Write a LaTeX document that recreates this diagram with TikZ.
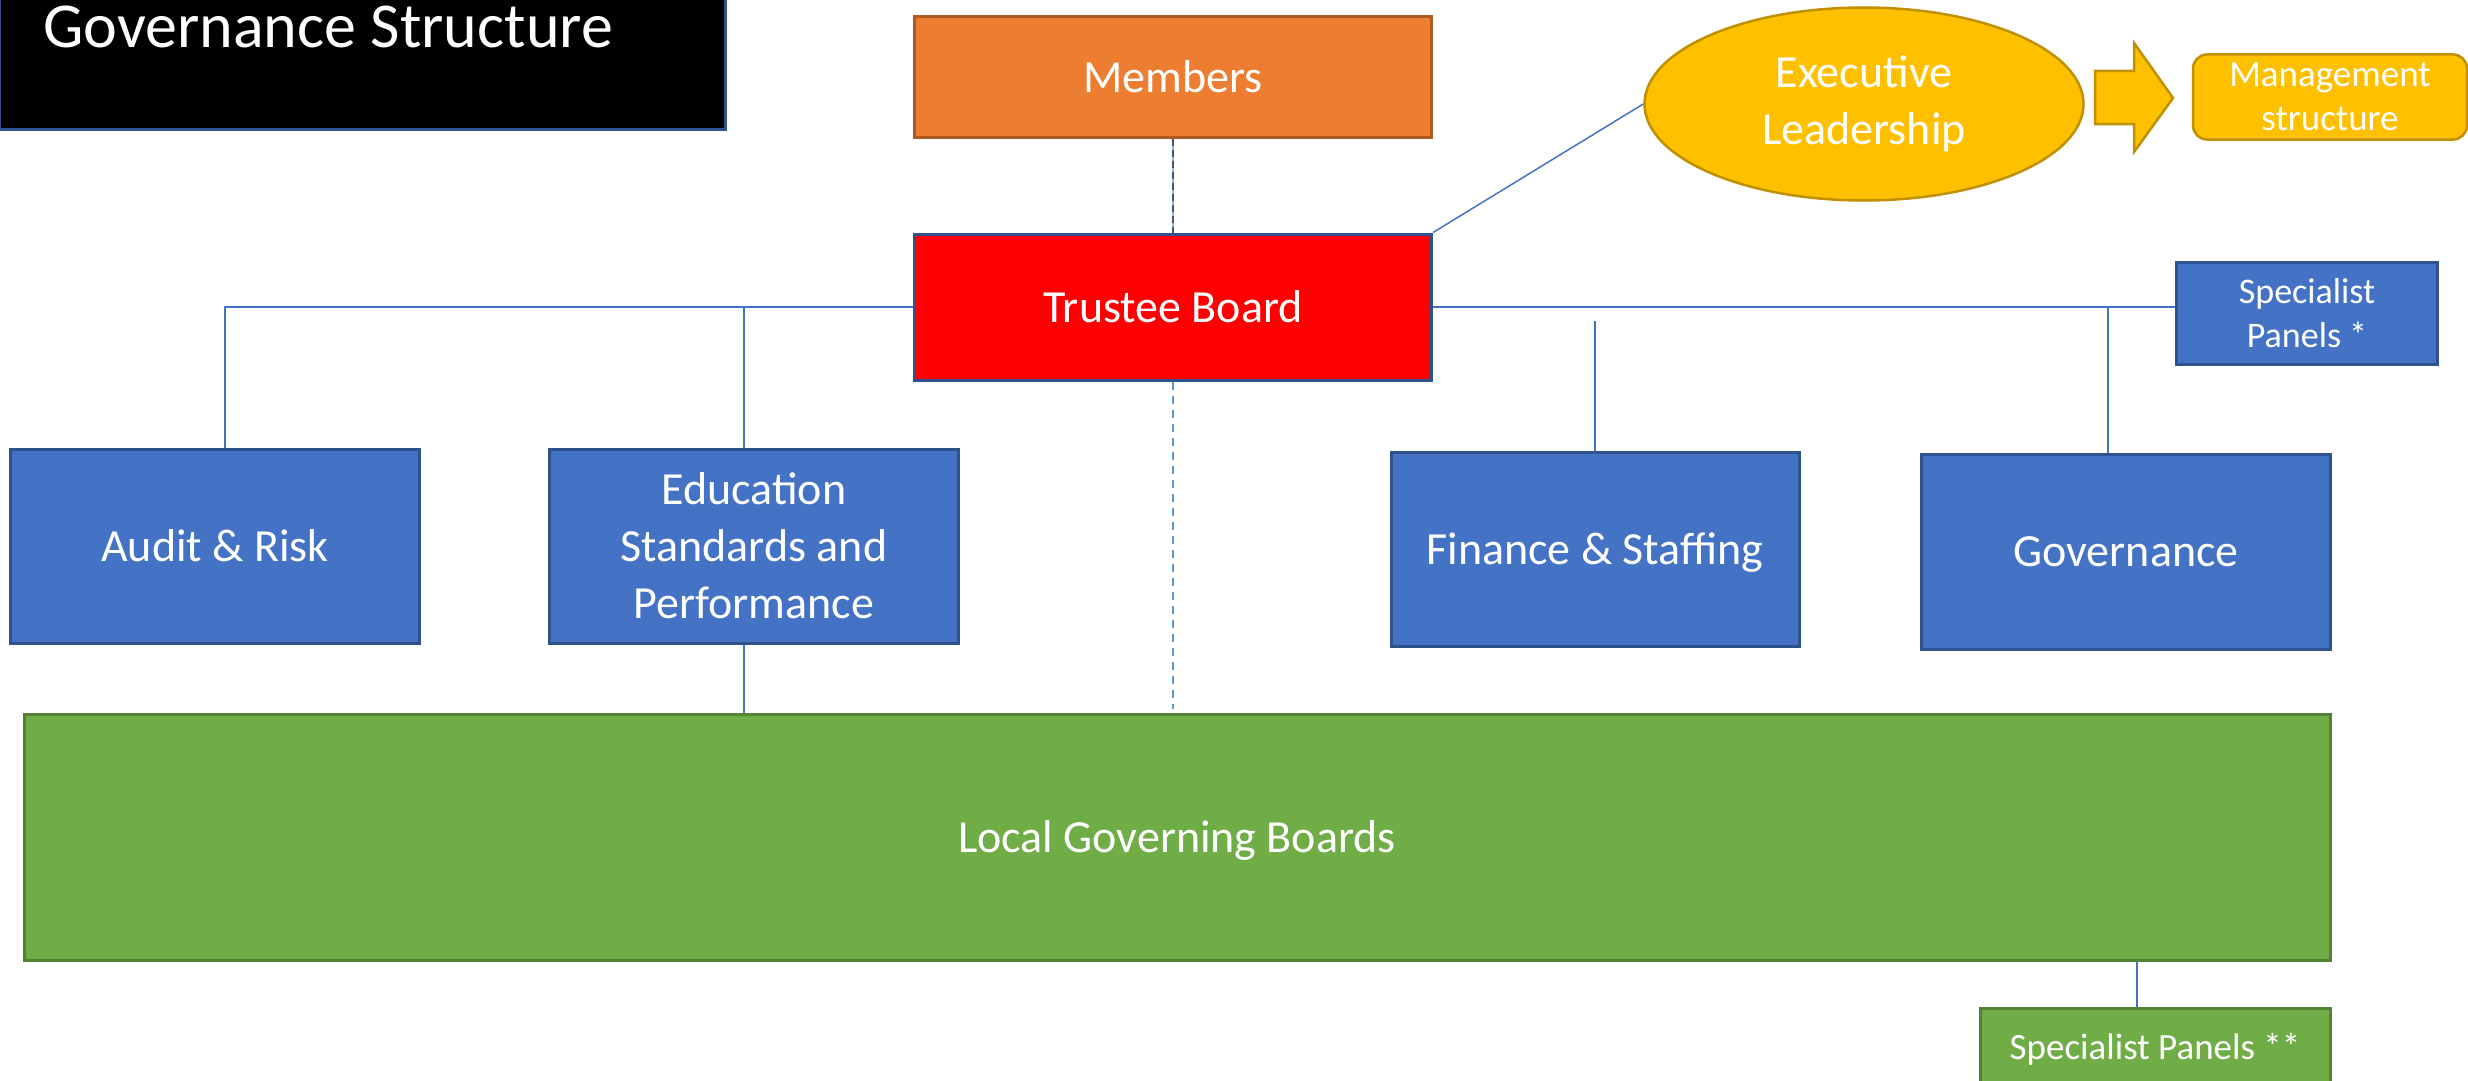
\documentclass[tikz,border=0pt]{standalone}
\usepackage{fontspec}
\setmainfont{Carlito}
\usetikzlibrary{shapes.geometric}
\definecolor{GovBlue}{RGB}{68,114,196}
\definecolor{GovBlueDark}{RGB}{47,82,143}
\definecolor{GovRed}{RGB}{255,0,0}
\definecolor{GovOrange}{RGB}{237,125,49}
\definecolor{GovOrangeDark}{RGB}{174,90,33}
\definecolor{GovGold}{RGB}{255,192,0}
\definecolor{GovGoldDark}{RGB}{191,144,0}
\definecolor{GovGreen}{RGB}{112,173,71}
\definecolor{GovGreenDark}{RGB}{84,130,53}
\definecolor{GovSlate}{RGB}{68,84,106}
\definecolor{GovSky}{RGB}{91,155,213}

\tikzset{
	panel/.style={draw=GovBlueDark, line width=3pt, fill=GovBlue, text=white,
		align=center, inner sep=0pt, font=\fontsize{46}{57}\selectfont},
	flat/.style={text depth=0pt},
	link/.style={draw=GovBlue, line width=1.5pt},
}

\begin{document}
\begin{tikzpicture}[x=1pt,y=-1pt]
		\useasboundingbox (0,0) rectangle (2468,1081);
		% title
		\node[draw=GovBlueDark, line width=2.5pt, fill=black, anchor=north west,
		minimum width=726pt, minimum height=130pt] (titlebox) at (-2,-2) {};
		\node[anchor=base west, text=white, inner sep=0pt, font=\fontsize{64}{64}\selectfont]
		(title) at (43,48) {Governance Structure};
		% top of the structure
		\node[panel, fill=GovOrange, draw=GovOrangeDark, minimum width=517pt, minimum height=120pt]
		(members) at (1173,77) {Members};
		\node[panel, fill=GovRed, minimum width=517pt, minimum height=146pt]
		(trustee) at (1173,307) {Trustee Board};
		\node[panel, ellipse, fill=GovGold, draw=GovGoldDark, line width=2.5pt,
		minimum width=439pt, minimum height=193pt] (exec) at (1864,104) {Executive\\Leadership};
		\draw[line width=2.5pt, draw=GovGoldDark, fill=GovGold]
		(2095,71) -- (2134,71) -- (2134,43) -- (2173,98) -- (2134,152) -- (2134,124) -- (2095,124) -- cycle;
		\node[panel, rounded corners=14pt, fill=GovGold, draw=GovGoldDark, line width=2.5pt,
		minimum width=274pt, minimum height=85pt, font=\fontsize{37}{44}\selectfont]
		(mgmt) at (2330,97) {Management\\structure};
		\node[panel, minimum width=261pt, minimum height=102pt, font=\fontsize{36}{44}\selectfont]
		(spec) at (2307,313) {Specialist\\Panels *};
		% committees
		\node[panel, minimum width=409pt, minimum height=194pt] (audit) at (215,546) {Audit \& Risk};
		\node[panel, minimum width=409pt, minimum height=194pt] (edu) at (754,546) {Education\\Standards and\\Performance};
		\node[panel, flat, minimum width=408pt, minimum height=194pt] (fin) at (1595,549) {Finance \& Staffing};
		\node[panel, minimum width=409pt, minimum height=195pt] (gov) at (2126,552) {Governance};
		% local level
		\node[panel, flat, fill=GovGreen, draw=GovGreenDark, minimum width=2306pt, minimum height=246pt]
		(lgb) at (1177,837) {Local Governing Boards};
		\node[panel, flat, fill=GovGreen, draw=GovGreenDark, minimum width=350pt, minimum height=76pt,
		font=\fontsize{37}{44}\selectfont] (sp2) at (2155,1046) {Specialist Panels **};
		% links
		\draw[link, draw=GovSky!70] (members.south) -- (trustee.north);
		\draw[GovSlate, line width=2pt, dash pattern=on 7pt off 4pt] (members.south) -- (trustee.north);
		\coordinate (lgbTop) at ([yshift=4pt]lgb.north);
		\draw[GovSky, line width=2pt, dash pattern=on 8pt off 6pt] (trustee.south) -- (trustee.south |- lgbTop);
		\draw[link] (trustee.north east) -- (exec.west);
		\draw[link] (trustee.east) -- (trustee.east -| spec.west);
		\coordinate (govLink) at ([xshift=-18pt]gov.north);
		\draw[link] (govLink) -- (govLink |- trustee.east);
		\coordinate (finTop) at (1595,321);
		\draw[link] (fin.north) -- (finTop);
		\coordinate (auditLink) at ([xshift=10pt]audit.north);
		\draw[link] (auditLink) -- (auditLink |- trustee.west) -- (trustee.west);
		\coordinate (eduLink) at ([xshift=-10pt]edu.north);
		\draw[link] (eduLink) -- (eduLink |- trustee.west);
		\coordinate (eduFoot) at ([xshift=-10pt]edu.south);
		\draw[link] (eduFoot) -- (eduFoot |- lgb.north);
		\coordinate (spLink) at ([xshift=-18pt]sp2.north);
		\draw[link] (spLink) -- (spLink |- lgb.south);
	\end{tikzpicture}
\end{document}
